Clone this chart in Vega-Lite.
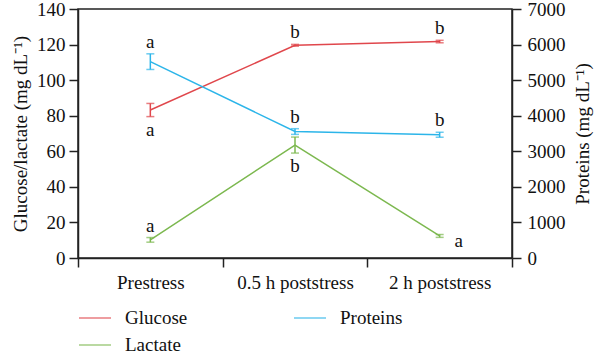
{
  "$schema": "https://vega.github.io/schema/vega-lite/v6.json",
  "width": 434,
  "height": 249,
  "autosize": {"type": "none"},
  "padding": {"left": 78, "top": 9, "right": 88, "bottom": 96},
  "config": {
    "font": "Liberation Serif",
    "view": {"stroke": "#222", "strokeWidth": 1.5},
    "axis": {
      "labelFont": "Liberation Serif",
      "titleFont": "Liberation Serif",
      "labelFontSize": 19,
      "titleFontSize": 19,
      "titleFontWeight": "normal",
      "labelColor": "#111",
      "titleColor": "#111",
      "domainColor": "#222",
      "tickColor": "#222",
      "domainWidth": 1.5,
      "tickWidth": 1.5,
      "tickSize": 9,
      "labelOverlap": false,
      "grid": false
    },
    "legend": {
      "labelFont": "Liberation Serif",
      "labelFontSize": 19,
      "labelColor": "#111"
    }
  },
  "data": {
    "values": [
      {"time": "Prestress", "series": "Glucose", "value": 83.2, "lo": 79.5, "hi": 86.9, "letter": "a", "side": "below"},
      {"time": "0.5 h poststress", "series": "Glucose", "value": 119.6, "lo": 119.1, "hi": 120.1, "letter": "b", "side": "above"},
      {"time": "2 h poststress", "series": "Glucose", "value": 121.7, "lo": 121.0, "hi": 122.4, "letter": "b", "side": "above"},
      {"time": "Prestress", "series": "Lactate", "value": 10.2, "lo": 8.9, "hi": 11.5, "letter": "a", "side": "above"},
      {"time": "0.5 h poststress", "series": "Lactate", "value": 63.5, "lo": 59.0, "hi": 68.0, "letter": "b", "side": "below"},
      {"time": "2 h poststress", "series": "Lactate", "value": 12.4, "lo": 11.6, "hi": 13.2, "letter": "a", "side": "right"},
      {"time": "Prestress", "series": "Proteins", "value": 5520, "lo": 5300, "hi": 5740, "letter": "a", "side": "above"},
      {"time": "0.5 h poststress", "series": "Proteins", "value": 3555, "lo": 3475, "hi": 3635, "letter": "b", "side": "above"},
      {"time": "2 h poststress", "series": "Proteins", "value": 3465, "lo": 3395, "hi": 3535, "letter": "b", "side": "above"}
    ]
  },
  "encoding": {
    "x": {
      "field": "time",
      "type": "nominal",
      "sort": ["Prestress", "0.5 h poststress", "2 h poststress"],
      "scale": {"paddingInner": 0, "paddingOuter": 0},
      "axis": {"title": null, "labelAngle": 0, "tickBand": "extent", "labelPadding": 6, "labelFont": "Liberation Serif", "labelFontSize": 19}
    }
  },
  "layer": [
    {
      "transform": [{"filter": "datum.series !== 'Proteins'"}],
      "layer": [
        {
          "mark": {"type": "line", "strokeWidth": 1.5},
          "encoding": {
            "y": {"field": "value", "type": "quantitative", "scale": {"domain": [0, 140]},
              "axis": {"title": "Glucose/lactate (mg dL⁻¹)", "values": [0, 20, 40, 60, 80, 100, 120, 140], "labelFont": "Liberation Serif", "labelFontSize": 19, "labelPadding": 4, "titlePadding": 6}},
            "color": {"field": "series", "type": "nominal",
              "scale": {"domain": ["Glucose", "Proteins", "Lactate"], "range": ["#e0474c", "#2cb5e9", "#7cb84f"]},
              "legend": {"title": null, "orient": "none", "legendX": 0, "legendY": 292, "columns": 2, "direction": "horizontal", "symbolType": "stroke", "symbolSize": 1024, "symbolStrokeWidth": 1.5, "labelFont": "Liberation Serif", "labelFontSize": 19, "labelOffset": 13, "columnPadding": 103, "rowPadding": -6, "padding": 0}}
          }
        },
        {
          "mark": {"type": "errorbar", "ticks": {"size": 8, "thickness": 1.5}, "thickness": 1.5},
          "encoding": {
            "y": {"field": "lo", "type": "quantitative",
              "axis": {"title": "Glucose/lactate (mg dL⁻¹)", "values": [0, 20, 40, 60, 80, 100, 120, 140], "labelFont": "Liberation Serif", "labelFontSize": 19, "labelPadding": 4, "titlePadding": 6}},
            "y2": {"field": "hi"},
            "color": {"field": "series", "type": "nominal"}
          }
        },
        {
          "transform": [{"filter": "datum.side === 'above'"}],
          "mark": {"type": "text", "fontSize": 19, "dy": -12, "baseline": "middle", "color": "#111"},
          "encoding": {
            "y": {"field": "hi", "type": "quantitative",
              "axis": {"title": "Glucose/lactate (mg dL⁻¹)", "values": [0, 20, 40, 60, 80, 100, 120, 140], "labelFont": "Liberation Serif", "labelFontSize": 19, "labelPadding": 4, "titlePadding": 6}},
            "text": {"field": "letter"}
          }
        },
        {
          "transform": [{"filter": "datum.side === 'below'"}],
          "mark": {"type": "text", "fontSize": 19, "dy": 13, "baseline": "middle", "color": "#111"},
          "encoding": {
            "y": {"field": "lo", "type": "quantitative",
              "axis": {"title": "Glucose/lactate (mg dL⁻¹)", "values": [0, 20, 40, 60, 80, 100, 120, 140], "labelFont": "Liberation Serif", "labelFontSize": 19, "labelPadding": 4, "titlePadding": 6}},
            "text": {"field": "letter"}
          }
        },
        {
          "transform": [{"filter": "datum.side === 'right'"}],
          "mark": {"type": "text", "fontSize": 19, "dx": 19, "dy": 5, "baseline": "middle", "color": "#111"},
          "encoding": {
            "y": {"field": "value", "type": "quantitative",
              "axis": {"title": "Glucose/lactate (mg dL⁻¹)", "values": [0, 20, 40, 60, 80, 100, 120, 140], "labelFont": "Liberation Serif", "labelFontSize": 19, "labelPadding": 4, "titlePadding": 6}},
            "text": {"field": "letter"}
          }
        }
      ]
    },
    {
      "transform": [{"filter": "datum.series === 'Proteins'"}],
      "layer": [
        {
          "mark": {"type": "line", "strokeWidth": 1.5},
          "encoding": {
            "y": {"field": "value", "type": "quantitative", "scale": {"domain": [0, 7000]},
              "axis": {"title": "Proteins (mg dL⁻¹)", "orient": "right", "values": [0, 1000, 2000, 3000, 4000, 5000, 6000, 7000], "format": "d", "labelFont": "Liberation Serif", "labelFontSize": 19, "labelPadding": 6, "titlePadding": 8, "titleAngle": -90, "titleBaseline": "top"}},
            "color": {"field": "series", "type": "nominal"}
          }
        },
        {
          "mark": {"type": "errorbar", "ticks": {"size": 8, "thickness": 1.5}, "thickness": 1.5},
          "encoding": {
            "y": {"field": "lo", "type": "quantitative",
              "axis": {"title": "Proteins (mg dL⁻¹)", "orient": "right", "values": [0, 1000, 2000, 3000, 4000, 5000, 6000, 7000], "format": "d", "labelFont": "Liberation Serif", "labelFontSize": 19, "labelPadding": 6, "titlePadding": 8, "titleAngle": -90, "titleBaseline": "top"}},
            "y2": {"field": "hi"},
            "color": {"field": "series", "type": "nominal"}
          }
        },
        {
          "mark": {"type": "text", "fontSize": 19, "dy": -12, "baseline": "middle", "color": "#111"},
          "encoding": {
            "y": {"field": "hi", "type": "quantitative",
              "axis": {"title": "Proteins (mg dL⁻¹)", "orient": "right", "values": [0, 1000, 2000, 3000, 4000, 5000, 6000, 7000], "format": "d", "labelFont": "Liberation Serif", "labelFontSize": 19, "labelPadding": 6, "titlePadding": 8, "titleAngle": -90, "titleBaseline": "top"}},
            "text": {"field": "letter"}
          }
        }
      ]
    }
  ],
  "resolve": {"scale": {"y": "independent"}}
}
